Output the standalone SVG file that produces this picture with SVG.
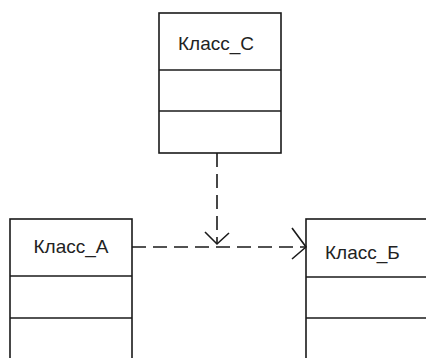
<svg xmlns="http://www.w3.org/2000/svg" width="426" height="358" viewBox="0 0 426 358">
<style>
.box{fill:#fff;stroke:#1a1a1a;stroke-width:1.6}
.sep{stroke:#1a1a1a;stroke-width:1.6}
.lbl{font-family:"Liberation Sans",Arial,sans-serif;font-size:19px;fill:#222}
.dep{fill:none;stroke:#1a1a1a;stroke-width:1.6;stroke-dasharray:14 7}
.head{fill:none;stroke:#1a1a1a;stroke-width:1.6}
</style>
<rect width="426" height="358" fill="#fff"/>
<g id="klass_c">
<rect class="box" x="159" y="13" width="122" height="140"/>
<line class="sep" x1="159" y1="70" x2="281" y2="70"/>
<line class="sep" x1="159" y1="111" x2="281" y2="111"/>
<text class="lbl" x="216" y="50" text-anchor="middle">Класс_С</text>
</g>
<g id="klass_a">
<rect class="box" x="10" y="219" width="122" height="150"/>
<line class="sep" x1="10" y1="276" x2="132" y2="276"/>
<line class="sep" x1="10" y1="318" x2="132" y2="318"/>
<text class="lbl" x="71" y="253" text-anchor="middle">Класс_А</text>
</g>
<g id="klass_b">
<rect class="box" x="306" y="219" width="140" height="150"/>
<line class="sep" x1="306" y1="277" x2="430" y2="277"/>
<line class="sep" x1="306" y1="318" x2="430" y2="318"/>
<text class="lbl" x="325" y="259">Класс_Б</text>
</g>
<g id="connectors">
<line class="dep" x1="132" y1="247" x2="305" y2="247"/>
<polyline class="head" points="292,228 306,247 292,259"/>
<line class="dep" x1="217" y1="153" x2="217" y2="244"/>
<polyline class="head" points="205,232 217,244 229,233"/>
</g>
</svg>
